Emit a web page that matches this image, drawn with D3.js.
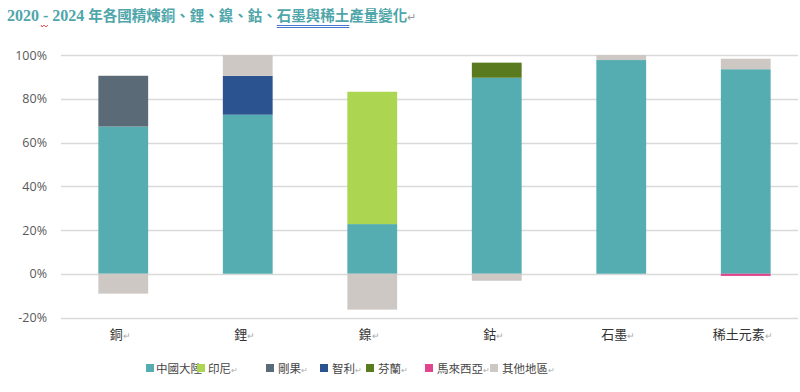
<!DOCTYPE html>
<html>
<head>
<meta charset="utf-8">
<script src="https://cdn.jsdelivr.net/npm/d3@7"></script>
<style>
  body { margin: 0; background: #fff; }
  svg { display: block; font-family: "Noto Sans CJK TC", "Noto Sans", sans-serif; }
</style>
</head>
<body>
<svg id="chart" width="800" height="392"></svg>
<script>
// categories and series (share of production, %)
const categories = ["銅", "鋰", "鎳", "鈷", "石墨", "稀土元素"]
const seriesNames = ["中國大陸", "印尼", "剛果", "智利", "芬蘭", "馬來西亞", "其他地區"]
const seriesColors = ["#55adb1", "#acd551", "#5a6b77", "#2b5390", "#5a7a20", "#e0468e", "#cdc8c4"]

const china     = [67.3, 72.7, 22.7, 89.6, 97.7, 93.5]
const indonesia = [0, 0, 60.5, 0, 0, 0]
const congo     = [23.2, 0, 0, 0, 0, 0]
const chile     = [0, 17.8, 0, 0, 0, 0]
const finland   = [0, 0, 0, 6.9, 0, 0]
const malaysia  = [0, 0, 0, 0, 0, -1.0]
const others    = [-9.1, 9.5, -16.4, -3.2, 2.3, 4.8]

const yTicks = [-20, 0, 20, 40, 60, 80, 100]

const seriesValues = [china, indonesia, congo, chile, finland, malaysia, others]
const rows = categories.map((c, i) => {
    const r = { cat: c }
    seriesNames.forEach((s, j) => { r[s] = seriesValues[j][i] })
    return r
})

const svg = d3.select("#chart")

// title
const title = svg.append("text")
    .attr("x", 7)
    .attr("y", 21)
    .attr("font-size", 14.5)
    .attr("font-weight", "bold")
    .attr("fill", "#4ea6aa")
const serif = "'Liberation Serif', 'DejaVu Serif', serif"
title.append("tspan").attr("font-family", serif).attr("font-size", 16).text("2020 ")
const dash = title.append("tspan").attr("font-family", serif).attr("font-size", 16).text("-")
title.append("tspan").attr("font-family", serif).attr("font-size", 16).text(" 2024 ")
title.append("tspan").text("年各國精煉銅、鋰、鎳、鈷、")
const ul = title.append("tspan").text("石墨與稀土")
title.append("tspan").text("產量變化")
title.append("tspan").attr("fill", "#999").attr("font-weight", "normal").attr("font-size", 11).text("↵")

// blue double underline and red squiggle, as in the source document
{
    const n = ul.node()
    const start = n.getStartPositionOfChar(0).x
    const end = n.getEndPositionOfChar(n.getNumberOfChars() - 1).x
    svg.append("line").attr("x1", start).attr("x2", end).attr("y1", 25.5).attr("y2", 25.5).attr("stroke", "#4a78d0").attr("stroke-width", 1)
    svg.append("line").attr("x1", start).attr("x2", end).attr("y1", 27.5).attr("y2", 27.5).attr("stroke", "#4a78d0").attr("stroke-width", 1)
    const d = dash.node()
    const ds = d.getStartPositionOfChar(0).x - 2
    const path = d3.path()
    path.moveTo(ds, 25)
    for (let k = 0; k < 4; k++) path.lineTo(ds + 2 * k + 1, k % 2 ? 25 : 27)
    svg.append("path").attr("d", path.toString()).attr("fill", "none").attr("stroke", "#e03030").attr("stroke-width", 0.8)
}

const x = d3.scaleBand().domain(categories).range([61, 808]).paddingInner(0.6).paddingOuter(0.3)
const y = d3.scaleLinear().domain([-20, 100]).range([317.5, 55])

// gridlines
svg.append("g").selectAll("line").data(yTicks).join("line")
    .attr("x1", 61).attr("x2", 798)
    .attr("y1", d => Math.round(y(d)) + 0.5).attr("y2", d => Math.round(y(d)) + 0.5)
    .attr("stroke", "#d9d9d9").attr("stroke-width", 1.3)

// y axis labels
const yAxis = d3.axisLeft(y).tickValues(yTicks).tickFormat(d => d + "%").tickSize(0).tickPadding(0)
const yg = svg.append("g").attr("transform", "translate(47,0)").call(yAxis)
yg.select(".domain").remove()
yg.selectAll("text").attr("font-size", 12.5).attr("fill", "#595959")
    .attr("font-family", "'Open Sans', 'Noto Sans', sans-serif")

// stacked bars
const stack = d3.stack().keys(seriesNames).offset(d3.stackOffsetDiverging)
const stacked = stack(rows)

svg.append("g").selectAll("g").data(stacked).join("g")
    .attr("fill", (d, i) => seriesColors[i])
    .selectAll("rect").data(d => d.filter(p => p[1] !== p[0])).join("rect")
    .attr("x", d => x(d.data.cat))
    .attr("width", x.bandwidth())
    .attr("y", d => y(Math.max(d[0], d[1])))
    .attr("height", d => Math.abs(y(d[0]) - y(d[1])))

// category labels
const xl = svg.append("g").selectAll("text").data(categories).join("text")
    .attr("x", d => x(d) + x.bandwidth() / 2 - 3)
    .attr("y", 339)
    .attr("text-anchor", "middle")
    .attr("font-size", 13)
    .attr("fill", "#333")
xl.append("tspan").text(d => d)
xl.append("tspan").attr("font-size", 9).attr("fill", "#aaa").text("↵")

// legend
const legendX = [146, 197, 266, 320, 366, 425, 490]
const lg = svg.append("g").selectAll("g").data(seriesNames).join("g")
    .attr("transform", (d, i) => `translate(${legendX[i]},369)`)
lg.append("rect").attr("x", 0).attr("y", -5).attr("width", 8).attr("height", 8)
    .attr("fill", (d, i) => seriesColors[i])
const lt = lg.append("text").attr("x", (d, i) => i === 0 ? 10 : (i === 1 ? 11 : 12)).attr("y", 4)
    .attr("font-size", 11.5).attr("fill", "#444")
lt.append("tspan").text(d => d)
lt.filter((d, i) => i > 0).append("tspan").attr("font-size", 8).attr("fill", "#aaa").text("↵")
</script>
</body>
</html>
